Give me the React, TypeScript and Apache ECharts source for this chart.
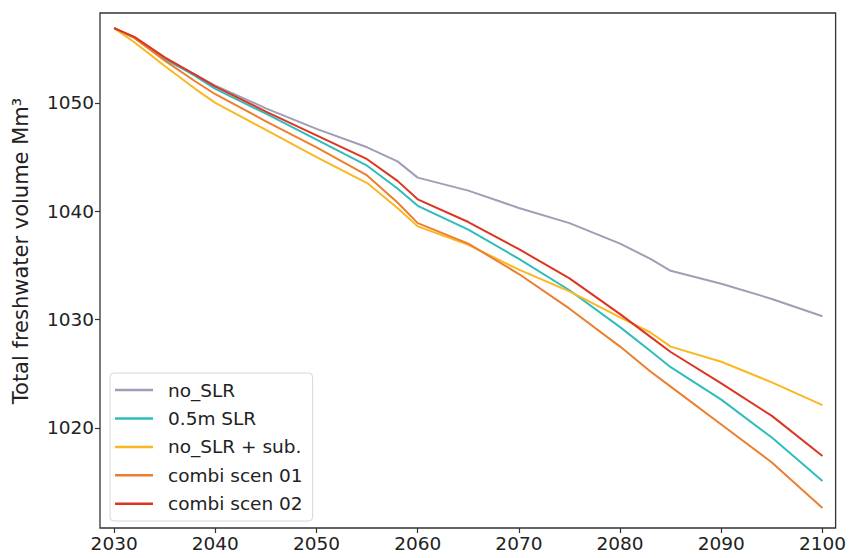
import React, { useEffect, useRef } from "react";
import * as echarts from "echarts";

const years = [2030, 2032, 2035, 2038, 2040, 2045, 2050, 2055, 2058, 2060, 2065, 2070, 2075, 2080, 2083, 2085, 2090, 2095, 2100];

const noSLR = [1056.9, 1056.0, 1054.0, 1052.6, 1051.6, 1049.5, 1047.6, 1045.9, 1044.6, 1043.1, 1041.9, 1040.3, 1038.9, 1037.0, 1035.6, 1034.5, 1033.3, 1031.9, 1030.3];
const slr05 = [1056.9, 1056.0, 1054.1, 1052.5, 1051.3, 1049.0, 1046.6, 1044.2, 1042.1, 1040.5, 1038.3, 1035.6, 1032.7, 1029.3, 1027.1, 1025.6, 1022.6, 1019.1, 1015.1];
const noSLRSub = [1056.9, 1055.6, 1053.4, 1051.3, 1050.0, 1047.5, 1045.0, 1042.6, 1040.3, 1038.6, 1036.9, 1034.6, 1032.6, 1030.2, 1028.8, 1027.5, 1026.1, 1024.2, 1022.1];
const combi01 = [1056.9, 1056.0, 1053.9, 1052.0, 1050.8, 1048.3, 1045.9, 1043.3, 1040.8, 1038.9, 1037.0, 1034.2, 1031.0, 1027.5, 1025.2, 1023.8, 1020.3, 1016.8, 1012.6];
const combi02 = [1056.9, 1056.1, 1054.2, 1052.6, 1051.5, 1049.2, 1047.0, 1044.8, 1042.8, 1041.1, 1039.0, 1036.5, 1033.8, 1030.5, 1028.4, 1027.0, 1024.1, 1021.1, 1017.4];

const xTicks = [2030, 2040, 2050, 2060, 2070, 2080, 2090, 2100];
const yTicks = [1020, 1030, 1040, 1050];

const seriesNames = ["no_SLR", "0.5m SLR", "no_SLR + sub.", "combi scen 01", "combi scen 02"];
const seriesColors = ["#9e9eb6", "#2fbcbc", "#fbb722", "#ec7f2e", "#dc3522"];
const seriesValues = [noSLR, slr05, noSLRSub, combi01, combi02];

const FONT = "DejaVu Sans";

export default function App() {
  const ref = useRef<HTMLDivElement>(null);
  useEffect(() => {
    if (!ref.current) return;
    const chart = echarts.init(ref.current, null, { renderer: "svg" });
    chart.setOption({
      animation: false,
      backgroundColor: "#ffffff",
      grid: {
        left: 100,
        right: 12,
        top: 13,
        bottom: 30,
        show: true,
        borderColor: "#333333",
        borderWidth: 1.3,
      },
      xAxis: {
        type: "value",
        min: 2028.6,
        max: 2101.3,
        splitLine: { show: false },
        axisLine: { show: false },
        axisTick: {
          show: true,
          customValues: xTicks,
          length: 5,
          lineStyle: { color: "#333333", width: 1.2 },
        },
        axisLabel: {
          customValues: xTicks,
          color: "#222222",
          fontFamily: FONT,
          fontSize: 18.5,
          margin: 6,
          formatter: (v: number) => String(v),
        },
      },
      yAxis: {
        type: "value",
        min: 1010.75,
        max: 1058.3,
        splitLine: { show: false },
        axisLine: { show: false },
        axisTick: {
          show: true,
          customValues: yTicks,
          length: 5,
          lineStyle: { color: "#333333", width: 1.2 },
        },
        axisLabel: {
          customValues: yTicks,
          color: "#222222",
          fontFamily: FONT,
          fontSize: 18.5,
          margin: 6,
          formatter: (v: number) => String(v),
        },
      },
      legend: {
        orient: "vertical",
        left: 110,
        top: 373,
        icon: "rect",
        itemWidth: 38,
        itemHeight: 2.5,
        itemGap: 9.4,
        padding: [7.6, 10, 7.8, 5],
        backgroundColor: "#ffffff",
        borderColor: "#d6d6d6",
        borderWidth: 1,
        borderRadius: 4,
        textStyle: {
          color: "#222222",
          fontFamily: FONT,
          fontSize: 18.5,
          padding: [0, 0, 0, 10],
        },
        data: seriesNames,
      },
      graphic: [
        {
          type: "text",
          x: 21,
          y: 251,
          rotation: Math.PI / 2,
          style: {
            text: "Total freshwater volume Mm³",
            fill: "#222222",
            font: `21px "${FONT}"`,
            align: "center",
            verticalAlign: "middle",
          },
        },
      ],
      series: seriesNames.map((name, i) => ({
        name,
        type: "line",
        symbol: "none",
        color: seriesColors[i],
        lineStyle: { width: 2, color: seriesColors[i] },
        data: years.map((y, j) => [y, seriesValues[i][j]]),
      })),
    });
    return () => chart.dispose();
  }, []);
  return (
    <div
      ref={ref}
      style={{ position: "fixed", left: 0, top: 0, width: 849, height: 558 }}
    />
  );
}
